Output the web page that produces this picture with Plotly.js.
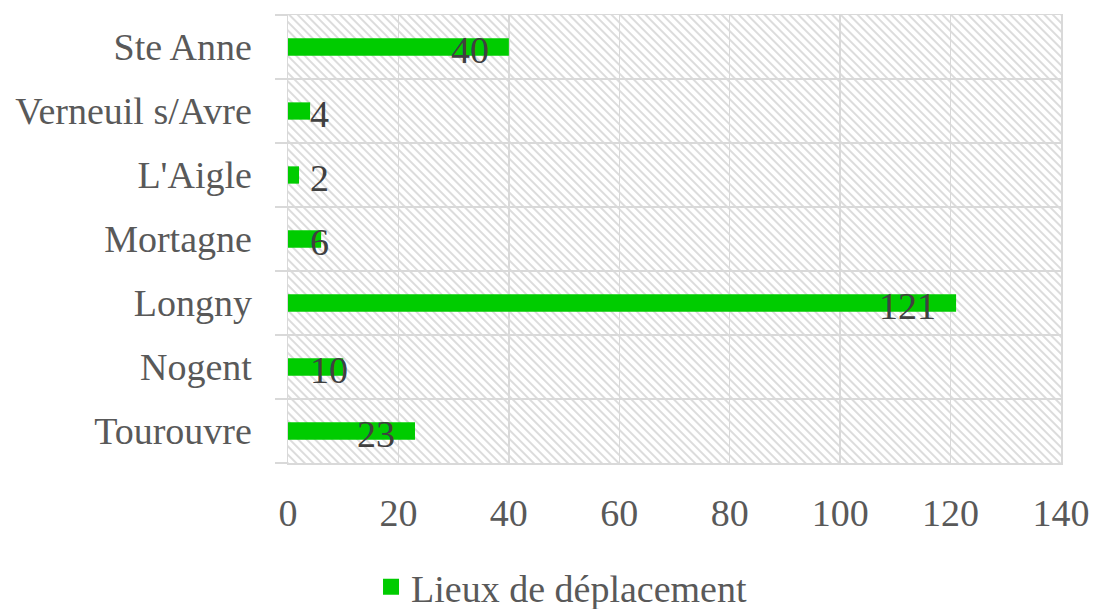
<!DOCTYPE html>
<html>
<head>
<meta charset="utf-8">
<script src="https://cdn.plot.ly/plotly-3.0.1.min.js"></script>
<style>html,body{margin:0;padding:0;background:#fff;}#chart{width:1093px;height:609px;}</style>
</head>
<body>
<div id="chart"></div>
<script>
// Data (bottom to top as drawn)
const categories = ["Tourouvre", "Nogent", "Longny", "Mortagne", "L'Aigle", "Verneuil s/Avre", "Ste Anne"];
const values = [23, 10, 121, 6, 2, 4, 40];
const seriesName = "Lieux de déplacement";
const xTicks = [0, 20, 40, 60, 80, 100, 120, 140];

const FONT = "'Liberation Serif', 'DejaVu Serif', serif";
const FS = 38;
const GREEN = "#00cc00";
const W = 1093, H = 609;
const margin = {l: 288, r: 32, t: 15, b: 146, autoexpand: false};
const pw = W - margin.l - margin.r, ph = H - margin.t - margin.b;

// hatch background for plot area
const svg = `<svg xmlns="http://www.w3.org/2000/svg" width="${pw}" height="${ph}" viewBox="0 0 ${pw} ${ph}" preserveAspectRatio="none">
<defs><pattern id="h" width="6" height="10" patternUnits="userSpaceOnUse" patternTransform="rotate(-45)">
<rect width="6" height="10" fill="#ffffff"/><line x1="1" y1="-1" x2="1" y2="11" stroke="#d4d4d4" stroke-width="1.6"/></pattern></defs>
<rect width="${pw}" height="${ph}" fill="url(#h)"/></svg>`;
const bgSrc = "data:image/svg+xml;charset=utf-8," + encodeURIComponent(svg);

const bars = {
  type: "bar",
  orientation: "h",
  y: categories,
  x: values,
  name: seriesName,
  marker: {color: GREEN},
  showlegend: false,
  hoverinfo: "x+y"
};
// legend entry with a larger square symbol
const legendEntry = {
  type: "scatter",
  mode: "markers",
  x: [null], y: [null],
  name: seriesName,
  marker: {symbol: "square", size: 17, color: GREEN},
  showlegend: true,
  hoverinfo: "skip"
};

// value labels: right-aligned near the bar end, or near the axis for short bars
const annotations = values.map((v, i) => {
  const big = v >= 20;
  return {
    x: big ? v : 0,
    y: categories[i],
    xref: "x", yref: "y",
    text: String(v),
    showarrow: false,
    xanchor: big ? "right" : "left",
    xshift: big ? -18 : 20,
    yshift: -3,
    font: {family: FONT, size: FS, color: "#404040"}
  };
});

const layout = {
  width: W, height: H,
  margin: margin,
  paper_bgcolor: "#ffffff",
  plot_bgcolor: "rgba(0,0,0,0)",
  bargap: 0.73,
  showlegend: true,
  legend: {
    orientation: "h",
    x: 0.1074, xanchor: "left",
    y: -0.2065, yanchor: "top",
    font: {family: FONT, size: FS, color: "#595959"},
    itemwidth: 30
  },
  xaxis: {
    range: [0, 140],
    tickvals: xTicks,
    ticktext: xTicks.map(String),
    showgrid: true, gridcolor: "#d9d9d9", gridwidth: 1.5,
    zeroline: false,
    showline: true, linecolor: "#d9d9d9", linewidth: 1.5, mirror: true,
    ticks: "", ticklabelstandoff: 16,
    tickfont: {family: FONT, size: FS, color: "#595959"},
    automargin: false,
    fixedrange: true
  },
  yaxis: {
    type: "category",
    categoryorder: "array",
    categoryarray: categories,
    range: [-0.5, 6.5],
    tickson: "boundaries",
    ticks: "outside", ticklen: 12, tickcolor: "#d9d9d9", tickwidth: 1.5,
    showgrid: true, gridcolor: "#d9d9d9", gridwidth: 1.5,
    showline: true, linecolor: "#d9d9d9", linewidth: 1.5, mirror: true,
    ticklabelstandoff: 27,
    tickfont: {family: FONT, size: FS, color: "#595959"},
    automargin: false,
    fixedrange: true
  },
  images: [{
    source: bgSrc,
    xref: "paper", yref: "paper",
    x: 0, y: 1, sizex: 1, sizey: 1,
    xanchor: "left", yanchor: "top",
    sizing: "stretch",
    layer: "below"
  }],
  annotations: annotations
};

Plotly.newPlot("chart", [bars, legendEntry], layout, {displayModeBar: false, staticPlot: true});
</script>
</body>
</html>
